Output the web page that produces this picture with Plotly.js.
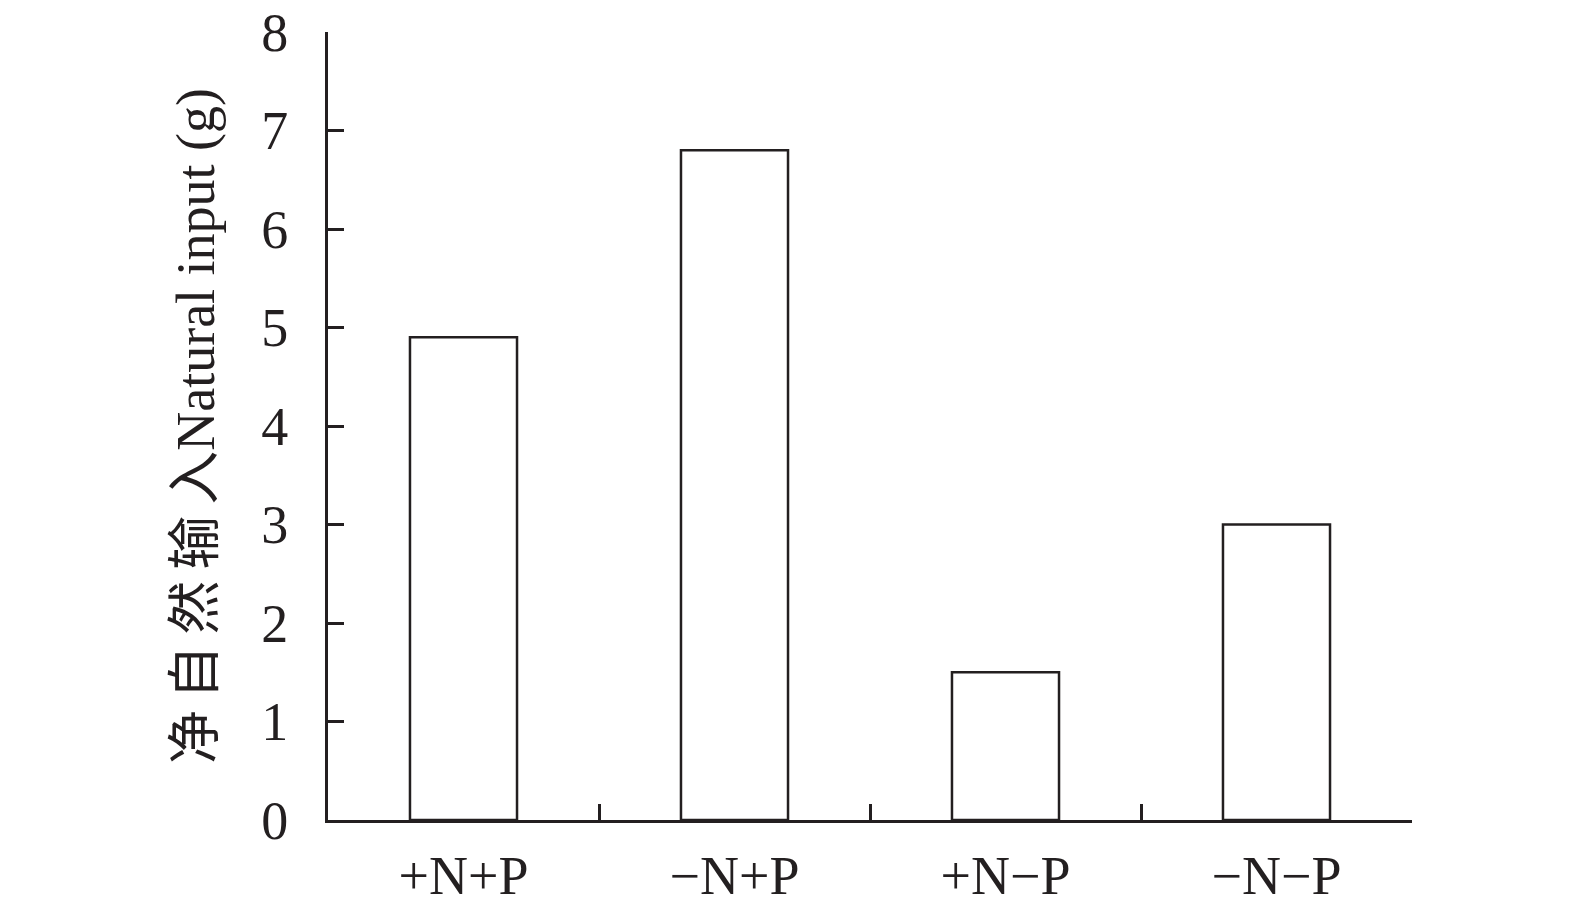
<!DOCTYPE html>
<html><head><meta charset="utf-8">
<script src="https://cdn.plot.ly/plotly-3.0.1.min.js"></script>
<style>html,body{margin:0;padding:0;background:#fff}#chart{width:1575px;height:919px}</style>
</head><body><div id="chart"></div>
<script>
const categories = ["+N+P", "−N+P", "+N−P", "−N−P"];
const values = [4.9, 6.8, 1.5, 3.0];
const yTicks = [0, 1, 2, 3, 4, 5, 6, 7, 8];
const yTitle = "净\u2009自\u2009然\u2009输\u2009入Natural input (g)";

const serif = "'Liberation Serif', 'Times New Roman', serif";
const trace = {
  type: "bar", x: categories, y: values,
  marker: {color: "#ffffff", line: {color: "#231f20", width: 2.5}},
  width: 0.395, hoverinfo: "none"
};
const layout = {
  width: 1575, height: 919,
  margin: {l: 328, r: 163, t: 32, b: 99},
  paper_bgcolor: "#fff", plot_bgcolor: "#fff",
  showlegend: false,
  font: {family: serif, color: "#231f20", size: 50},
  xaxis: {
    type: "category", range: [-0.5, 3.5],
    showline: true, linecolor: "#231f20", linewidth: 3,
    ticks: "inside", tickson: "boundaries", ticklen: 16, tickwidth: 3, tickcolor: "#231f20",
    showgrid: false, zeroline: false,
    tickfont: {family: serif, size: 54, color: "#231f20"},
    ticklabelstandoff: 6
  },
  yaxis: {
    range: [0, 8], tickvals: yTicks, ticktext: yTicks.map(String),
    showline: true, linecolor: "#231f20", linewidth: 3,
    ticks: "inside", ticklen: 16, tickwidth: 3, tickcolor: "#231f20",
    showgrid: false, zeroline: false,
    tickfont: {family: serif, size: 54, color: "#231f20"},
    ticklabelstandoff: 26,
    title: {text: yTitle, font: {family: "'Liberation Serif', 'Noto Sans CJK SC', serif", size: 54, color: "#231f20"}, standoff: 30}
  }
};
Plotly.newPlot("chart", [trace], layout, {displayModeBar: false, staticPlot: true});
</script></body></html>
